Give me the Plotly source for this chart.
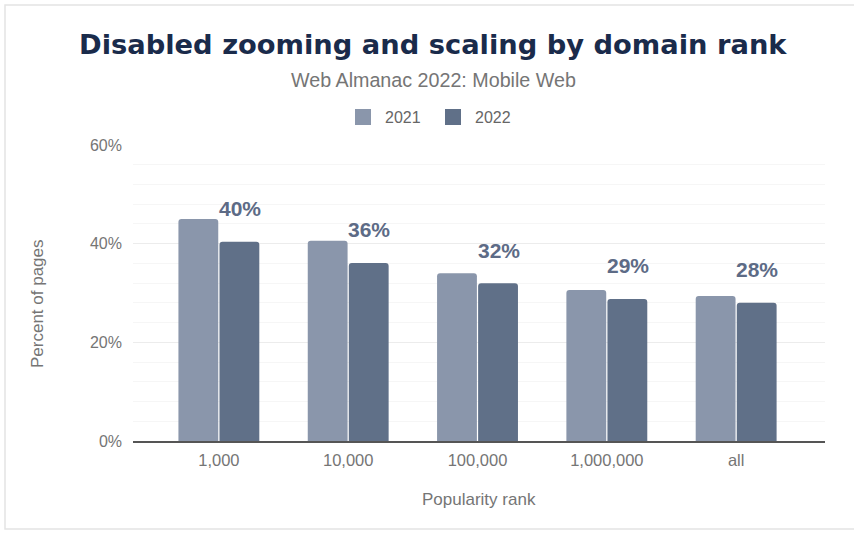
import plotly.graph_objects as go

categories = ["1,000", "10,000", "100,000", "1,000,000", "all"]
series_names = ["2021", "2022"]
values_2021 = [45.0, 40.6, 34.0, 30.6, 29.4]
values_2022 = [40.4, 36.1, 32.0, 28.8, 28.0]
labels_2022 = ["40%", "36%", "32%", "29%", "28%"]

c2021 = "#8a96ab"
c2022 = "#607088"
W, H = 854, 533
L, R, T, B = 133, 29, 145, 92
PW, PH = W - L - R, H - T - B


def px(x):
    return (x - L) / PW


def py(y):
    return (H - B - y) / PH


fig = go.Figure()
fig.add_trace(go.Bar(name=series_names[0], x=categories, y=values_2021, marker_color=c2021,
                     marker_line_width=0))
fig.add_trace(go.Bar(name=series_names[1], x=categories, y=values_2022, marker_color=c2022,
                     marker_line_width=0))

for cat, v, lab in zip(categories, values_2022, labels_2022):
    fig.add_annotation(x=cat, y=v, text="<b>" + lab + "</b>", showarrow=False, xshift=21, yshift=33,
                       font=dict(family="Liberation Sans, Arial", size=21, color="#5d6b86"))

fig.update_layout(
    width=W, height=H,
    paper_bgcolor="white", plot_bgcolor="white",
    margin=dict(l=L, r=R, t=T, b=B, autoexpand=False),
    barmode="group", bargap=0.365, bargroupgap=0.03,
    barcornerradius=3,
    font=dict(family="Liberation Sans, Arial", color="#757575"),
    showlegend=False,
)
fig.add_annotation(text="<b>Disabled zooming and scaling by domain rank</b>", xref="paper", yref="paper",
                   x=px(433), y=py(45), xanchor="center", yanchor="middle", showarrow=False,
                   font=dict(family="DejaVu Sans", size=27.3, color="#1a2b4b"))
fig.add_annotation(text="Web Almanac 2022: Mobile Web", xref="paper", yref="paper",
                   x=px(433), y=py(80), xanchor="center", yanchor="middle", showarrow=False,
                   font=dict(family="Liberation Sans, Arial", size=19.7, color="#757575"))

# legend (custom)
legend_items = [(355, 383, c2021, series_names[0]), (445, 473, c2022, series_names[1])]
for sx, tx, col, name in legend_items:
    fig.add_shape(type="rect", xref="paper", yref="paper",
                  x0=px(sx), x1=px(sx + 16), y0=py(125), y1=py(109),
                  fillcolor=col, line=dict(width=0))
    fig.add_annotation(text=name, xref="paper", yref="paper", x=px(tx), y=py(117),
                       xanchor="left", yanchor="middle", showarrow=False,
                       font=dict(family="Liberation Sans, Arial", size=16, color="#666666"))

# axis titles
fig.add_annotation(text="Percent of pages", xref="paper", yref="paper", x=px(37), y=py(304),
                   xanchor="center", yanchor="middle", textangle=-90, showarrow=False,
                   font=dict(family="Liberation Sans, Arial", size=17, color="#757575"))
fig.add_annotation(text="Popularity rank", xref="paper", yref="paper", x=px(479), y=py(499),
                   xanchor="center", yanchor="middle", showarrow=False,
                   font=dict(family="Liberation Sans, Arial", size=17, color="#757575"))

fig.update_yaxes(range=[0, 60], tickvals=[0, 20, 40, 60], ticktext=["0%", "20%", "40%", "60%"],
                 showgrid=True, gridcolor="#ececec", gridwidth=1,
                 minor=dict(dtick=4, showgrid=True, gridcolor="#f6f6f6", gridwidth=1),
                 zeroline=False, showline=False, automargin=False,
                 tickfont=dict(size=16, color="#757575"), ticks="", ticklabelstandoff=10)
fig.update_xaxes(range=[-0.664, 4.687], showline=True, linecolor="#555555", linewidth=2,
                 automargin=False,
                 tickfont=dict(size=16.5, color="#757575"), ticks="", ticklabelstandoff=3)

# outer card border
fig.add_shape(type="rect", xref="paper", yref="paper",
              x0=px(5), x1=px(870), y0=py(529), y1=py(5),
              line=dict(color="#e4e4e4", width=1.5), fillcolor="rgba(0,0,0,0)", layer="below")

fig.write_html("out.html", config={"displayModeBar": False},
               post_script="document.body.style.margin='0';")
